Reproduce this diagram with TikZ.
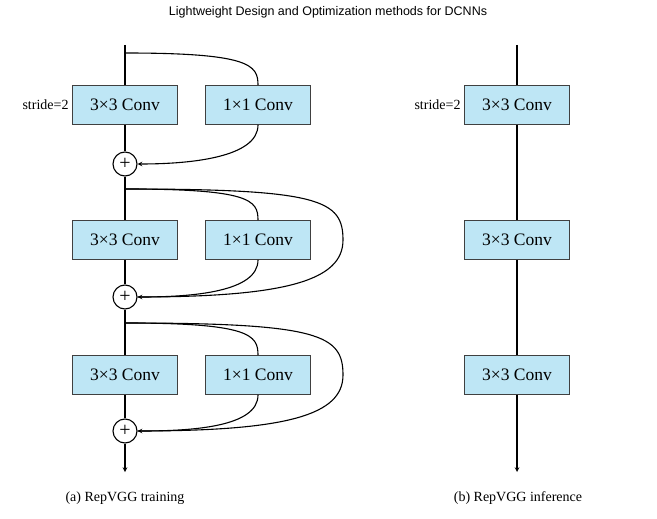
\documentclass[tikz,border=0pt]{standalone}
\usepackage{fontspec}
\setmainfont{Liberation Serif}
\setsansfont{Liberation Sans}
\usetikzlibrary{calc}
\begin{document}
\begin{tikzpicture}[x=1pt,y=-1pt,>=stealth,
  ln/.style={line width=1.1pt},
  conv/.style={draw=black!75,line width=0.9pt,fill=cblue,minimum width=105pt,minimum height=39pt,inner sep=0pt,font=\fontsize{17.5}{19}\selectfont},
  plus/.style={circle,draw,line width=1.1pt,minimum size=24pt,inner sep=0pt,font=\fontsize{20}{20}\selectfont},
  lbl/.style={font=\fontsize{14}{16}\selectfont}]
\definecolor{cblue}{RGB}{190,230,245}
\useasboundingbox (0,0) rectangle (657,519);
\node[font=\sffamily\fontsize{12.5}{14}\selectfont] (title) at (328,12) {Lightweight Design and Optimization methods for DCNNs};
% left column
\coordinate (t0) at (125,45);
\coordinate (s1) at (125,53);
\node[conv] (a1) at (125,105) {3×3 Conv};
\node[conv] (b1) at (258,105) {1×1 Conv};
\node[plus] (p1) at (125,164) {+};
\coordinate (s2) at (125,189);
\node[conv] (a2) at (125,240) {3×3 Conv};
\node[conv] (b2) at (258,240) {1×1 Conv};
\node[plus] (p2) at (125,297) {+};
\coordinate (s3) at (125,323);
\node[conv] (a3) at (125,375) {3×3 Conv};
\node[conv] (b3) at (258,375) {1×1 Conv};
\node[plus] (p3) at (125,431) {+};
\coordinate (e0) at (125,472);
\draw[ln] (t0) -- (a1) -- (p1) -- (a2) -- (p2) -- (a3) -- (p3);
\draw[ln,->] (p3) -- (e0);
\node[lbl,anchor=east] (st1) at (a1.west) {stride=2};
\foreach \s/\b/\p in {s1/b1/p1, s2/b2/p2, s3/b3/p3}{
  \draw[ln] (\s) .. controls ($(\s)+(125,0)$) and ($(\b.north)+(0,-20)$) .. (\b.north);
  \draw[ln,->] (\b.south) .. controls ($(\b.south)+(0,32)$) and ($(\p.east)+(55,0)$) .. (\p.east);
}
\foreach \s/\p/\y in {s2/p2/240, s3/p3/375}{
  \draw[ln] (\s) .. controls ($(\s)+(195,0)$) and (343,\y-40) .. (343,\y)
    .. controls (343,\y+40) and ($(\p.east)+(150,0)$) .. (\p.east);
}
% right column
\coordinate (rt) at (517,45);
\node[conv] (r1) at (517,105) {3×3 Conv};
\node[conv] (r2) at (517,240) {3×3 Conv};
\node[conv] (r3) at (517,375) {3×3 Conv};
\coordinate (re) at (517,472);
\draw[ln] (rt) -- (r1) -- (r2) -- (r3);
\draw[ln,->] (r3) -- (re);
\node[lbl,anchor=east] (st2) at (r1.west) {stride=2};
\node[lbl] (ca) at (125,498) {(a) RepVGG training};
\node[lbl] (cb) at (518,498) {(b) RepVGG inference};
\end{tikzpicture}
\end{document}
